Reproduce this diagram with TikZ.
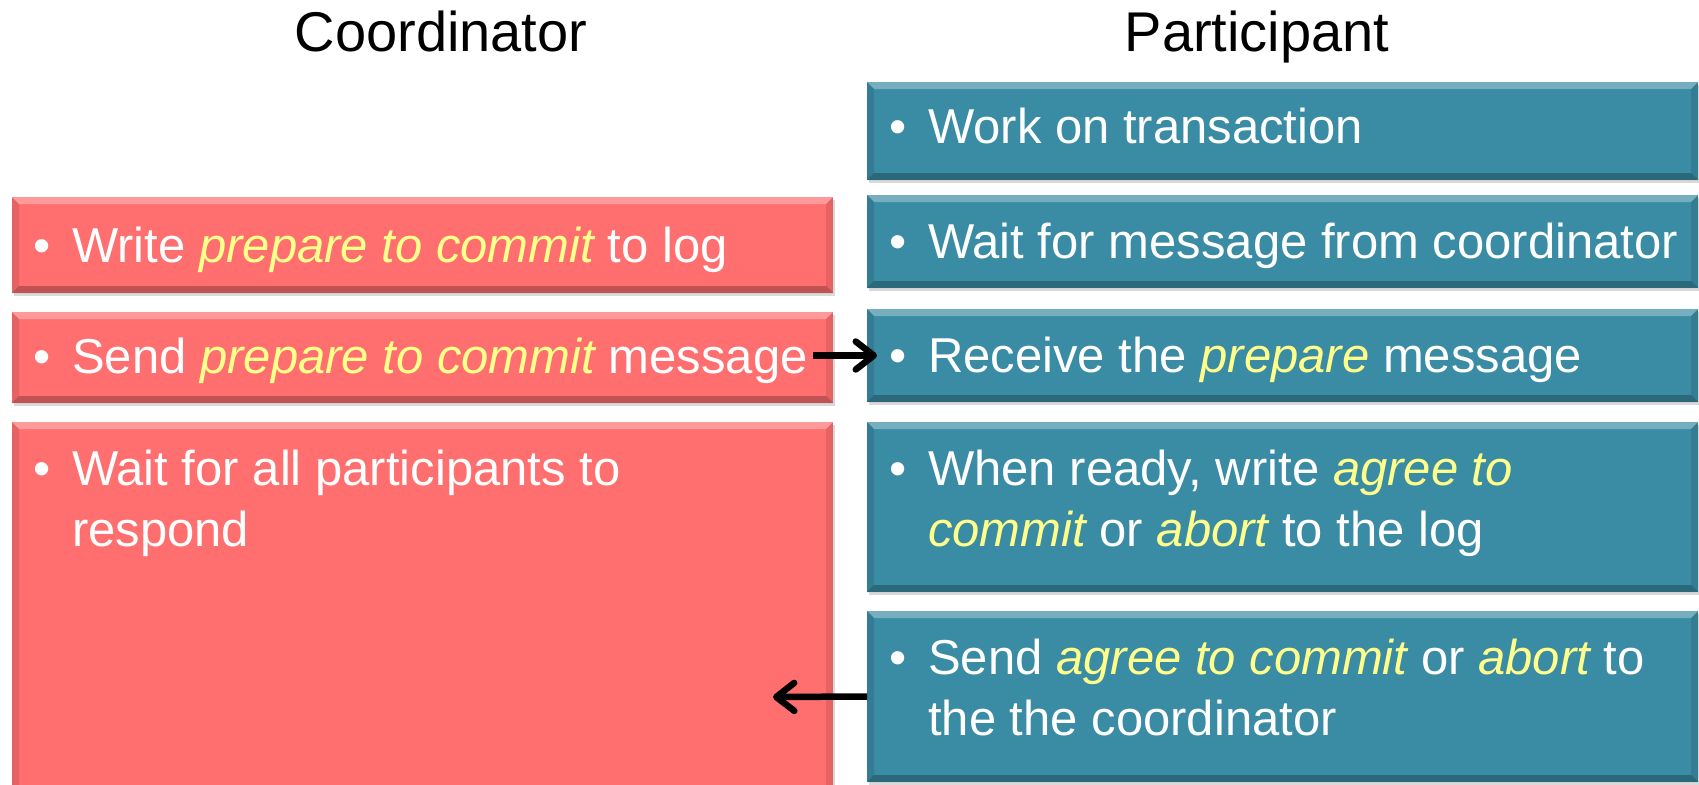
\documentclass[tikz,border=0pt]{standalone}
\usepackage{fontspec}
\setmainfont{Liberation Sans}
\usetikzlibrary{arrows.meta,shadows}
\definecolor{coordred}{HTML}{FF6F6F}
\definecolor{partblue}{HTML}{3A8BA4}
\definecolor{hiyellow}{HTML}{FFFF8C}
\newcommand\yel[1]{\textcolor{hiyellow}{\itshape #1}}
\newcommand\bul{\llap{\textbullet\hspace{22pt}}}
\tikzset{
  bevel/.style={path picture={
    \fill[white,opacity=.3] (path picture bounding box.north west) -- (path picture bounding box.north east)
      -- ([shift={(-7pt,-7pt)}]path picture bounding box.north east) -- ([shift={(7pt,-7pt)}]path picture bounding box.north west) -- cycle;
    \fill[black,opacity=.25] (path picture bounding box.south west) -- (path picture bounding box.south east)
      -- ([shift={(-7pt,7pt)}]path picture bounding box.south east) -- ([shift={(7pt,7pt)}]path picture bounding box.south west) -- cycle;
    \fill[black,opacity=.1] (path picture bounding box.north west) -- ([shift={(7pt,-7pt)}]path picture bounding box.north west)
      -- ([shift={(7pt,7pt)}]path picture bounding box.south west) -- (path picture bounding box.south west) -- cycle;
    \fill[black,opacity=.1] (path picture bounding box.north east) -- ([shift={(-7pt,-7pt)}]path picture bounding box.north east)
      -- ([shift={(-7pt,7pt)}]path picture bounding box.south east) -- (path picture bounding box.south east) -- cycle;
  }},
  box/.style={rectangle, anchor=north west, inner sep=0pt, outer sep=0pt, bevel,
    drop shadow={shadow xshift=2pt, shadow yshift=-3pt, opacity=.3}},
  redbox/.style={box, fill=coordred, minimum width=821pt},
  bluebox/.style={box, fill=partblue, minimum width=831pt},
  txt/.style={anchor=base west, inner sep=0pt, text=white, align=left,
    font=\fontsize{49pt}{61pt}\selectfont},
  title/.style={anchor=base, inner sep=0pt, font=\fontsize{56pt}{60pt}\selectfont},
  msg/.style={line width=6.5pt, -{Straight Barb[length=18pt,width=28pt,line cap=round,line join=round]}}
}
\begin{document}
\begin{tikzpicture}[x=1pt,y=-1pt]
\useasboundingbox (0,0) rectangle (1699,784);
\node[title] (coord) at (441,52) {Coordinator};
\node[title] (part) at (1257,52) {Participant};
% coordinator side
\node[redbox, minimum height=96pt] (r1) at (12,197) {};
\node[redbox, minimum height=91pt] (r2) at (12,312) {};
\node[redbox, minimum height=372pt] (r3) at (12,422) {};
\node[txt] (r1t) at (72,262) {\bul Write \yel{prepare to commit} to log};
\node[txt] (r2t) at (72,373) {\bul Send \yel{prepare to commit} message};
\node[txt] (r3t) at (72,546) {\bul Wait for all participants to\\respond};
% participant side
\node[bluebox, minimum height=98pt] (b1) at (867,82) {};
\node[bluebox, minimum height=93pt] (b2) at (867,195) {};
\node[bluebox, minimum height=93pt] (b3) at (867,309) {};
\node[bluebox, minimum height=170pt] (b4) at (867,422) {};
\node[bluebox, minimum height=171pt] (b5) at (867,611) {};
\node[txt] (b1t) at (928,143) {\bul Work on transaction};
\node[txt] (b2t) at (928,258) {\bul Wait for message from coordinator};
\node[txt] (b3t) at (928,372) {\bul Receive the \yel{prepare} message};
\node[txt] (b4t) at (928,546) {\bul When ready, write \yel{agree to}\\\yel{commit} or \yel{abort} to the log};
\node[txt] (b5t) at (928,735) {\bul Send \yel{agree to commit} or \yel{abort} to\\the the coordinator};
% messages
\coordinate (r3in) at (773,697);
\draw[msg] ([xshift=5pt]r2t.east |- b3.west) -- ([xshift=10pt]b3.west);
\draw[msg] (b5.west) -- (r3in);
\end{tikzpicture}
\end{document}
